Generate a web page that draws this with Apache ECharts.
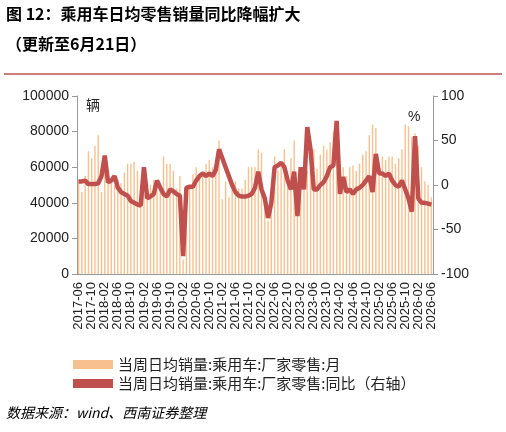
<!DOCTYPE html>
<html><head><meta charset="utf-8">
<script src="https://cdn.jsdelivr.net/npm/echarts@6/dist/echarts.min.js"></script>
<style>body{margin:0;background:#fff}#c{width:506px;height:432px}</style></head>
<body><div id="c"></div>
<script>
const months=[];for(let y=2017,m=6;!(y===2026&&m>6);){months.push(y+'-'+String(m).padStart(2,'0'));m++;if(m>12){m=1;y++;}}
const barVals=[53,46,55,69,65,72,78,
46,60,55,53,50,53,51,57,62,62,63,58,
50,45,51,50,53,52,50,66,62,62,58,48,
55,8,33,50,56,60,54,58,62,64,60,63,
75,42,52,43,50,52,48,48,53,60,60,60,
70,68,45,30,40,66,58,60,70,58,65,75,
45,52,60,58,62,70,59,67,72,70,74,80,
70,45,60,55,60,61,58,62,67,69,78,84,
82,55,66,64,66,66,62,65,70,84,83,77,
79,72,60,52,50,43].map(v=>v*1000);
const yoyVals=[4,4,5,1,1,1,2,10,33,3,5,10,-3,-8,-10,-12,-18,-20,-22,-23,20,-15,-13,-10,5,-3,-10,-13,-5,-7,-10,-12,-80,-3,-2,-2,5,10,13,10,13,10,17,40,30,20,10,0,-8,-12,-13,-13,-12,-10,-3,15,-5,-15,-37,-20,20,22,25,20,5,-5,15,-35,20,-5,65,40,-5,-5,0,3,10,20,22,72,-10,9,-8,-5,-10,-5,-3,0,5,10,-8,35,13,13,10,13,5,0,-2,5,-5,-15,-30,55,-15,-20,-20,-21,-22];
const ch=echarts.init(document.getElementById('c'));
const ff='"Noto Sans CJK SC",sans-serif';
const nf='"Liberation Sans",Arial,sans-serif';
ch.setOption({
 animation:false,
 textStyle:{fontFamily:ff},
 graphic:[
  {type:'text',left:6,top:6,style:{text:'图 12：乘用车日均零售销量同比降幅扩大',font:'bold 16px '+ff,fill:'#000'}},
  {type:'text',left:6,top:36,style:{text:'（更新至6月21日）',font:'bold 16px '+ff,fill:'#000'}},
  {type:'line',shape:{x1:4,y1:74,x2:502,y2:74},style:{stroke:'#c0504d',lineWidth:1.5}},
  {type:'text',left:86,top:98,style:{text:'辆',font:'14px '+ff,fill:'#222'}},
  {type:'text',left:408,top:110,style:{text:'%',font:'14px '+nf,fill:'#222'}},
  {type:'text',left:6,top:406,style:{text:'数据来源：wind、西南证券整理',font:'italic 14px '+ff,fill:'#000'}}
 ],
 legend:{orient:'vertical',left:68,top:352,itemGap:4,itemWidth:40,itemHeight:9,textStyle:{fontSize:15,color:'#222'},
   data:[{name:'当周日均销量:乘用车:厂家零售:月',icon:'rect'},{name:'当周日均销量:乘用车:厂家零售:同比（右轴）',icon:'rect'}]},
 grid:{left:77,right:73,top:96,bottom:158},
 xAxis:{type:'category',data:months,axisLine:{lineStyle:{color:'#999'}},axisTick:{alignWithLabel:true,interval:3,lineStyle:{color:'#999'}},
   axisLabel:{interval:3,rotate:90,fontSize:13,color:'#222',fontFamily:nf}},
 yAxis:[
  {type:'value',min:0,max:100000,interval:20000,splitLine:{show:false},axisLine:{show:true,lineStyle:{color:'#999'}},axisTick:{show:true,lineStyle:{color:'#999'}},axisLabel:{fontSize:14,color:'#222',fontFamily:nf,formatter:v=>String(v)}},
  {type:'value',min:-100,max:100,interval:50,splitLine:{show:false},axisLine:{show:true,lineStyle:{color:'#999'}},axisTick:{show:true,lineStyle:{color:'#999'}},axisLabel:{fontSize:14,color:'#222',fontFamily:nf}}
 ],
 series:[
  {name:'当周日均销量:乘用车:厂家零售:月',type:'bar',data:barVals,barWidth:1.4,itemStyle:{color:'#f9c08f'}},
  {name:'当周日均销量:乘用车:厂家零售:同比（右轴）',type:'line',yAxisIndex:1,data:yoyVals,symbol:'none',lineStyle:{width:4.5,color:'#c0504d'},itemStyle:{color:'#c0504d'}}
 ]
});
</script></body></html>
